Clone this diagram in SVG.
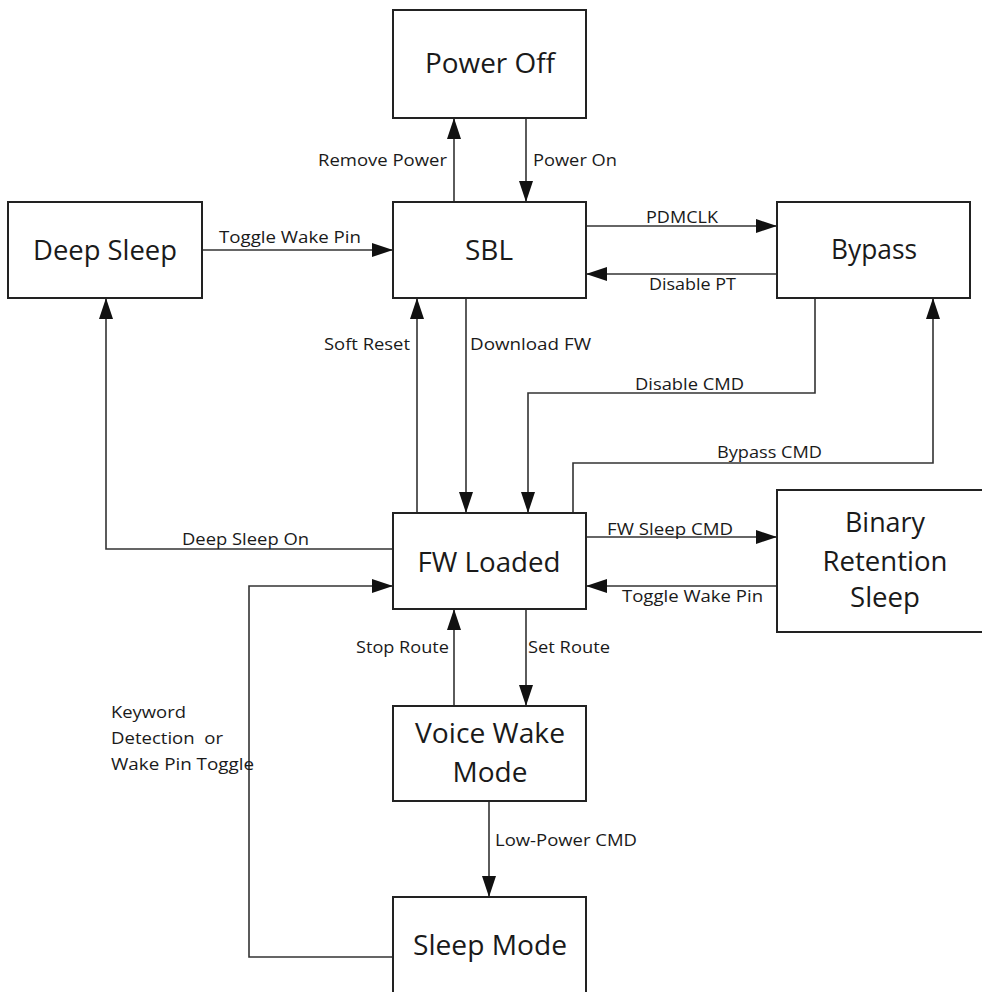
<svg xmlns="http://www.w3.org/2000/svg" width="982" height="992" viewBox="0 0 982 992">
<style>
.box{fill:#fff;stroke:#222;stroke-width:2}
.n{font-family:"Open Sans","Liberation Sans",sans-serif;font-size:28px;fill:#1a1a1a;text-anchor:middle}
.l{font-family:"Open Sans","Liberation Sans",sans-serif;font-size:16.5px;fill:#1a1a1a}
.c{fill:none;stroke:#333;stroke-width:1.6}
.a{marker-end:url(#ah)}
</style>
<defs>
<marker id="ah" markerUnits="userSpaceOnUse" markerWidth="21" markerHeight="14" refX="21" refY="7" orient="auto">
<path d="M0,0 L21,7 L0,14 z" fill="#111"/>
</marker>
</defs>
<rect width="982" height="992" fill="#fff"/>
<g id="connectors">
<path class="c a" d="M454,202 V118"/>
<path class="c a" d="M526,118 V202"/>
<path class="c a" d="M202,250 H393"/>
<path class="c a" d="M586,226 H777"/>
<path class="c a" d="M777,274 H586"/>
<path class="c a" d="M393,549 H106 V298"/>
<path class="c a" d="M417,513 V298"/>
<path class="c a" d="M466,298 V513"/>
<path class="c a" d="M815,298 V393 H528 V513"/>
<path class="c a" d="M573,513 V463 H933 V298"/>
<path class="c a" d="M586,537 H777"/>
<path class="c a" d="M777,586 H586"/>
<path class="c a" d="M393,957 H249 V586 H393"/>
<path class="c a" d="M454,706 V609"/>
<path class="c a" d="M526,609 V706"/>
<path class="c a" d="M489,801 V897"/>
<text class="l" x="318" y="166" textLength="129" lengthAdjust="spacingAndGlyphs">Remove Power</text>
<text class="l" x="533" y="166" textLength="84" lengthAdjust="spacingAndGlyphs">Power On</text>
<text class="l" x="219" y="243" textLength="142" lengthAdjust="spacingAndGlyphs">Toggle Wake Pin</text>
<text class="l" x="646" y="223" textLength="72" lengthAdjust="spacingAndGlyphs">PDMCLK</text>
<text class="l" x="649" y="290" textLength="87" lengthAdjust="spacingAndGlyphs">Disable PT</text>
<text class="l" x="324" y="350" textLength="86" lengthAdjust="spacingAndGlyphs">Soft Reset</text>
<text class="l" x="470" y="350" textLength="121" lengthAdjust="spacingAndGlyphs">Download FW</text>
<text class="l" x="635" y="390" textLength="109" lengthAdjust="spacingAndGlyphs">Disable CMD</text>
<text class="l" x="717" y="458" textLength="105" lengthAdjust="spacingAndGlyphs">Bypass CMD</text>
<text class="l" x="182" y="545" textLength="127" lengthAdjust="spacingAndGlyphs">Deep Sleep On</text>
<text class="l" x="607" y="535" textLength="126" lengthAdjust="spacingAndGlyphs">FW Sleep CMD</text>
<text class="l" x="622" y="602" textLength="141" lengthAdjust="spacingAndGlyphs">Toggle Wake Pin</text>
<text class="l" x="356" y="653" textLength="93" lengthAdjust="spacingAndGlyphs">Stop Route</text>
<text class="l" x="528" y="653" textLength="82" lengthAdjust="spacingAndGlyphs">Set Route</text>
<text class="l" x="495" y="846" textLength="142" lengthAdjust="spacingAndGlyphs">Low-Power CMD</text>
<text class="l" x="111" y="718" textLength="75" lengthAdjust="spacingAndGlyphs">Keyword</text>
<text class="l" x="111" y="744" textLength="112" lengthAdjust="spacingAndGlyphs" style="white-space:pre">Detection  or</text>
<text class="l" x="111" y="770" textLength="143" lengthAdjust="spacingAndGlyphs">Wake Pin Toggle</text>
</g>
<g id="power-off">
<rect class="box" x="393" y="10" width="193" height="108"/>
<text class="n" x="490" y="73" textLength="130" lengthAdjust="spacingAndGlyphs">Power Off</text>
</g>
<g id="deep-sleep">
<rect class="box" x="8" y="202" width="194" height="96"/>
<text class="n" x="105" y="260" textLength="144" lengthAdjust="spacingAndGlyphs">Deep Sleep</text>
</g>
<g id="sbl">
<rect class="box" x="393" y="202" width="193" height="96"/>
<text class="n" x="489" y="260">SBL</text>
</g>
<g id="bypass">
<rect class="box" x="777" y="202" width="193" height="96"/>
<text class="n" x="874" y="259" textLength="86" lengthAdjust="spacingAndGlyphs">Bypass</text>
</g>
<g id="fw-loaded">
<rect class="box" x="393" y="513" width="193" height="96"/>
<text class="n" x="489" y="572" textLength="143" lengthAdjust="spacingAndGlyphs">FW Loaded</text>
</g>
<g id="binary-retention-sleep">
<rect class="box" x="777" y="490" width="212" height="142"/>
<text class="n" x="885" y="532" textLength="80" lengthAdjust="spacingAndGlyphs">Binary</text>
<text class="n" x="885" y="571" textLength="125" lengthAdjust="spacingAndGlyphs">Retention</text>
<text class="n" x="885" y="607" textLength="70" lengthAdjust="spacingAndGlyphs">Sleep</text>
</g>
<g id="voice-wake-mode">
<rect class="box" x="393" y="706" width="193" height="95"/>
<text class="n" x="490" y="743" textLength="150" lengthAdjust="spacingAndGlyphs">Voice Wake</text>
<text class="n" x="490" y="782" textLength="75" lengthAdjust="spacingAndGlyphs">Mode</text>
</g>
<g id="sleep-mode">
<rect class="box" x="393" y="897" width="193" height="120"/>
<text class="n" x="490" y="955" textLength="154" lengthAdjust="spacingAndGlyphs">Sleep Mode</text>
</g>
</svg>
